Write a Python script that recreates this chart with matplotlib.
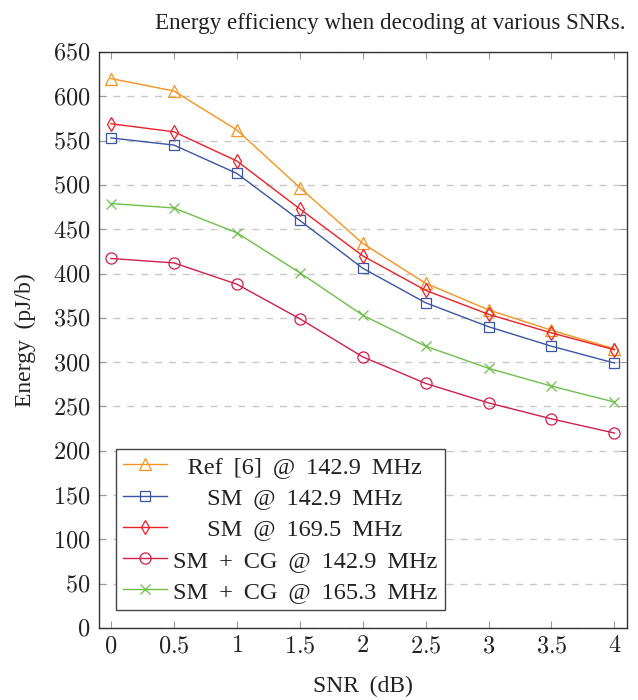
import matplotlib
matplotlib.use("Agg")
import matplotlib.pyplot as plt
from matplotlib.ticker import FuncFormatter, MultipleLocator

plt.rcParams['mathtext.fontset'] = 'cm'
plt.rcParams['font.family'] = ['Liberation Serif', 'DejaVu Serif']

snr = [0, 0.5, 1, 1.5, 2, 2.5, 3, 3.5, 4]
ref6_1429 = [620, 606, 562, 497, 434, 389, 359, 336, 315]
sm_1429 = [553, 545, 513, 460, 406, 367, 340, 318, 299]
sm_1695 = [569, 560, 527, 473, 420, 381, 354, 333, 314]
smcg_1429 = [417, 412, 388, 349, 306, 276, 254, 236, 220]
smcg_1653 = [479, 474, 446, 401, 353, 318, 293, 273, 255]

labels = ["Ref [6] @ 142.9 MHz", "SM @ 142.9 MHz", "SM @ 169.5 MHz",
          "SM + CG @ 142.9 MHz", "SM + CG @ 165.3 MHz"]

TS = '\u2009'  # thin space to widen word spacing like TeX
def widen(s):
    return s.replace(' ', ' ' + TS)

fig = plt.figure(figsize=(6.38, 7.0), dpi=100)
ax = fig.add_axes([99/638, 72/700, 528/638, 576/700])

LEG_FS = 17.5
# centre the legend labels (as in the reference) by left-padding with thin spaces
renderer = fig.canvas.get_renderer()
def text_w(s):
    t = fig.text(0, 0, s, fontsize=LEG_FS)
    w = t.get_window_extent(renderer).width
    t.remove()
    return w
wide = [widen(l) for l in labels]
widths = [text_w(l) for l in wide]
ts_w = (text_w('M' + TS * 20 + 'M') - text_w('MM')) / 20
maxw = max(widths)
padded = [TS * int(round((maxw - w) / 2 / ts_w)) + l for l, w in zip(wide, widths)]

series = [
    (ref6_1429, '#F7931E', '^', 8),
    (sm_1429, '#3A55A5', 's', 7.5),
    (sm_1695, '#EC2027', 'd', 7.5),
    (smcg_1429, '#CF1F4B', 'o', 8),
    (smcg_1653, '#6CC04A', 'x', 6.5),
]
for (vals, col, mk, ms), lab in zip(series, padded):
    ax.plot(snr, vals, color=col, marker=mk, markersize=ms, markerfacecolor='none',
            markeredgecolor=col, markeredgewidth=0.9, linewidth=1.0, label=lab)

ax.set_xlim(-0.095, 4.1)
ax.set_ylim(0, 650)
ax.xaxis.set_major_locator(MultipleLocator(0.5))
ax.yaxis.set_major_locator(MultipleLocator(50))
ax.xaxis.set_major_formatter(FuncFormatter(lambda v, p: f'${v:g}$'))
ax.yaxis.set_major_formatter(FuncFormatter(lambda v, p: f'${v:g}$'))
ax.tick_params(direction='in', length=5, width=0.8, color='#999999', labelsize=17.5,
               top=True, right=True, labelcolor='#222222', pad=6)
ax.grid(axis='y', color='#C8C8C8', linestyle=(0, (5, 5)), linewidth=1.0)
ax.set_axisbelow(True)
for s in ax.spines.values():
    s.set_color('#333333')
    s.set_linewidth(1.0)

ax.set_xlabel(widen('SNR (dB)'), fontsize=17, labelpad=13, color='#222222')
ax.set_ylabel(widen('Energy (pJ/b)'), fontsize=17, labelpad=12, color='#222222')
fig.text(390/638, 1 - 23/700, 'Energy efficiency when decoding at various SNRs.',
         ha='center', va='center', fontsize=16.6, color='#222222')

leg = ax.legend(loc='lower left', bbox_to_anchor=(0.032, 0.031), fontsize=LEG_FS,
                frameon=True, fancybox=False, edgecolor='#444444', framealpha=1,
                handlelength=1.8, borderpad=0.3, labelspacing=0.38, handletextpad=0.25,
                borderaxespad=0)
leg.get_frame().set_linewidth(1.0)
for t in leg.get_texts():
    t.set_color('#222222')

fig.savefig('out.png', dpi=100)
